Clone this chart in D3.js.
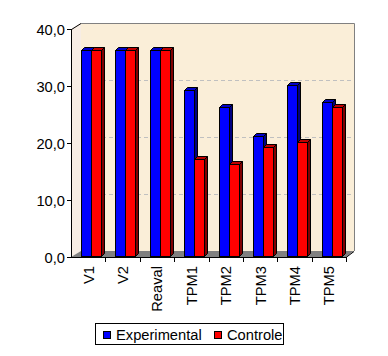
<!DOCTYPE html>
<html><head><meta charset="utf-8">
<script src="https://cdn.jsdelivr.net/npm/d3@7/dist/d3.min.js"></script>
<style>body{margin:0;background:#fff}svg{display:block;font-family:"Liberation Sans",Arial,sans-serif}</style>
</head><body><svg id="c" width="388" height="356"></svg>
<script>
const categories = ["V1","V2","Reaval","TPM1","TPM2","TPM3","TPM4","TPM5"];
const experimental = [36,36,36,29,26,21,30,27];
const controle = [36,36,36,17,16,19,20,26];
const seriesNames = ["Experimental","Controle"];
const yTicks = [0,10,20,30,40];

const svg = d3.select("#c");
const fs = 14.7;
const dx = 9, dy = -6;
const x = d3.scaleBand().domain(categories).range([71,346]).padding(0);
const y = d3.scaleLinear().domain([0,40]).range([257,29]);
const fmt = v => d3.format(".1f")(v).replace(".", ",");

// back wall
const bx0 = 71+dx+1, bx1 = 346+dx-1;
svg.append("rect").attr("x",bx0).attr("y",y(40)+dy).attr("width",bx1-bx0).attr("height",y(0)-y(40))
  .attr("fill","#FAEED8").attr("stroke","none");
// left wall
svg.append("polygon").attr("points",[[71,y(40)],[bx0,y(40)+dy],[bx0,y(0)+dy],[71,y(0)]].map(p=>p.join(",")).join(" "))
  .attr("fill","#F7EDE4");
// floor
svg.append("polygon").attr("points",[[71,y(0)],[bx0,y(0)+dy],[bx1,y(0)+dy],[346,y(0)]].map(p=>p.join(",")).join(" "))
  .attr("fill","#808080");
// gridlines
svg.selectAll("line.grid").data(yTicks.filter(v=>v>0 && v<40)).join("line")
  .attr("x1",bx0).attr("x2",bx1).attr("y1",d=>y(d)+dy+0.5).attr("y2",d=>y(d)+dy+0.5)
  .attr("stroke","#C0C0C0").attr("stroke-dasharray","4,3");
// wall border top/right
svg.append("path").attr("d",`M${bx0},${y(40)+dy+0.5}H${bx1+0.5}V${y(0)+dy}`)
  .attr("fill","none").attr("stroke","#808080");

// bars
const bw = 10, d3x = 3, d3y = 3;
const series = [
  {vals: experimental, off: 10, front:"#0000FF", top:"#0000C8", side:"#000080"},
  {vals: controle, off: 20, front:"#FF0000", top:"#C00000", side:"#800000"}
];
categories.forEach((c,i)=>{
  series.forEach(s=>{
    const x0 = Math.round(x(c)+s.off)+0.5;
    const yt = Math.round(y(s.vals[i])-1.5)+0.5;
    const yb = Math.round(y(0)-1.5)+0.5;
    const g = svg.append("g").attr("stroke","#000").attr("stroke-width",1).attr("stroke-linejoin","miter");
    g.append("polygon").attr("points",`${x0+bw},${yt} ${x0+bw+d3x},${yt-d3y} ${x0+bw+d3x},${yb-d3y} ${x0+bw},${yb}`).attr("fill",s.side);
    g.append("polygon").attr("points",`${x0},${yt} ${x0+d3x},${yt-d3y} ${x0+bw+d3x},${yt-d3y} ${x0+bw},${yt}`).attr("fill",s.top);
    g.append("rect").attr("x",x0).attr("y",yt).attr("width",bw).attr("height",yb-yt).attr("fill",s.front);
  });
});

// y axis
svg.append("line").attr("x1",71.5).attr("x2",71.5).attr("y1",y(40)).attr("y2",y(0)+0.5).attr("stroke","#000");
svg.append("line").attr("x1",71.5).attr("y1",y(40)+0.5).attr("x2",bx0).attr("y2",y(40)+dy+0.5).attr("stroke","#000");
const yt = svg.selectAll("g.yt").data(yTicks).join("g").attr("transform",d=>`translate(0,${Math.round(y(d))+0.5})`);
yt.append("line").attr("x1",67).attr("x2",71.5).attr("stroke","#000");
yt.append("text").attr("x",65).attr("dy","0.36em").attr("text-anchor","end").attr("font-size",fs).attr("fill","#000").text(fmt);

// x axis
svg.append("line").attr("x1",71).attr("x2",346).attr("y1",y(0)+0.5).attr("y2",y(0)+0.5).attr("stroke","#000");
svg.append("line").attr("x1",346).attr("y1",y(0)+0.5).attr("x2",346+dx-1).attr("y2",y(0)+dy+0.5).attr("stroke","#000");
const bounds = categories.map(c=>x(c)).concat([x.range()[1]]);
svg.selectAll("line.xt").data(bounds.slice(1)).join("line")
  .attr("x1",d=>Math.round(d)+0.5).attr("x2",d=>Math.round(d)+0.5).attr("y1",y(0)).attr("y2",y(0)+5).attr("stroke","#000");
svg.selectAll("text.xl").data(categories).join("text")
  .attr("transform",d=>`translate(${x(d)+x.bandwidth()/2+5.5},${y(0)+9}) rotate(-90)`)
  .attr("text-anchor","end").attr("font-size",fs).attr("fill","#000").text(d=>d);

// legend
const lg = svg.append("g");
lg.append("rect").attr("x",95.5).attr("y",323.5).attr("width",188).attr("height",21).attr("fill","#fff").attr("stroke","#000");
const lcol = ["#0000FF","#FF0000"];
const lx = [103,214];
seriesNames.forEach((n,i)=>{
  lg.append("rect").attr("x",lx[i]+0.5).attr("y",331.5).attr("width",7).attr("height",7).attr("fill",lcol[i]).attr("stroke","#000");
  lg.append("text").attr("x",lx[i]+13).attr("y",340).attr("font-size",fs).attr("fill","#000").text(n);
});
</script></body></html>
